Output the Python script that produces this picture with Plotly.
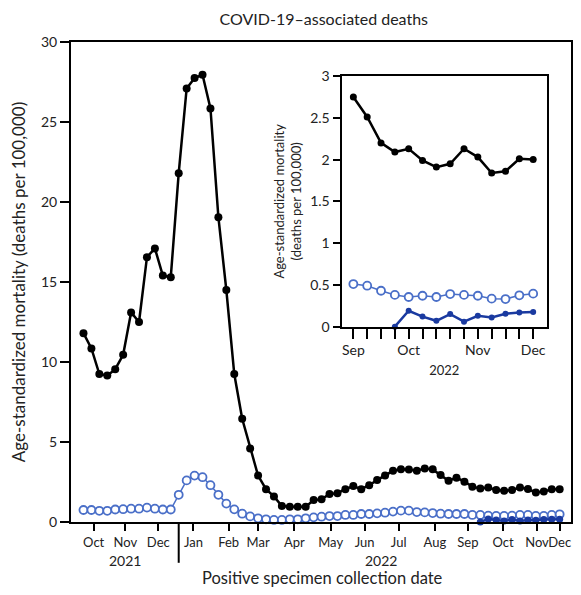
import pandas as pd
import plotly.graph_objects as go

# weekly points, week ending dates
weeks = pd.date_range("2021-10-09", "2022-12-03", freq="7D")

# all cases (black), unvaccinated-type comparison series (open), dark blue series
black_main = [11.8, 10.85, 9.25, 9.15, 9.55, 10.45, 13.1, 12.5, 16.55, 17.1,
              15.4, 15.3, 21.8, 27.1, 27.75, 27.95, 25.85, 19.05, 14.5, 9.25,
              6.45, 4.6, 2.9, 2.05, 1.6, 1.0, 0.95, 0.95, 0.95, 1.37,
              1.42, 1.75, 1.8, 2.05, 2.25, 2.05, 2.3, 2.62, 2.9, 3.2,
              3.3, 3.28, 3.2, 3.35, 3.29, 2.94, 2.58, 2.77, 2.52, 2.21,
              2.1, 2.15, 2.0, 1.96, 2.0, 2.15, 2.06, 1.85, 1.9, 2.05, 2.05]
light_main = [0.75, 0.75, 0.7, 0.7, 0.78, 0.8, 0.83, 0.83, 0.9, 0.83,
              0.78, 0.78, 1.7, 2.6, 2.9, 2.8, 2.3, 1.7, 1.15, 0.79,
              0.52, 0.35, 0.23, 0.17, 0.13, 0.13, 0.17, 0.17, 0.23, 0.29,
              0.33, 0.37, 0.37, 0.44, 0.44, 0.5, 0.5, 0.54, 0.58, 0.65,
              0.71, 0.71, 0.62, 0.6, 0.56, 0.52, 0.5, 0.5, 0.5, 0.44,
              0.44, 0.4, 0.38, 0.38, 0.4, 0.44, 0.44, 0.38, 0.38, 0.44, 0.48]

# inset: Sep 3 - Dec 3 2022
inset_weeks = pd.date_range("2022-09-03", "2022-12-03", freq="7D")
black_inset = [2.75, 2.51, 2.20, 2.09, 2.13, 1.99, 1.91, 1.95, 2.13, 2.03,
               1.84, 1.86, 2.01, 2.0]
light_inset = [0.51, 0.49, 0.43, 0.38, 0.355, 0.37, 0.355, 0.39, 0.38, 0.37,
               0.335, 0.33, 0.375, 0.395]
dark_weeks = inset_weeks[3:]
dark_vals = [0, 0.19, 0.12, 0.07, 0.15, 0.06, 0.13, 0.11, 0.155, 0.17, 0.175]

month_ticks = ["2021-10-18", "2021-11-15", "2021-12-14", "2022-01-14", "2022-02-14",
               "2022-03-12", "2022-04-13", "2022-05-15", "2022-06-14", "2022-07-14",
               "2022-08-15", "2022-09-13", "2022-10-14", "2022-11-13", "2022-12-03"]
month_labels = ["Oct", "Nov", "Dec", "Jan", "Feb", "Mar", "Apr", "May", "Jun",
                "Jul", "Aug", "Sep", "Oct", "Nov", "Dec"]
inset_labels = ["Sep", "", "", "", "Oct", "", "", "", "", "Nov", "", "", "", "Dec"]

BLACK = "#000000"
LIGHT = "#4a6fc8"
DARK = "#1a3aa0"
FONT = "Lato"

fig = go.Figure()

fig.add_trace(go.Scatter(x=weeks, y=black_main, mode="lines+markers",
                         line=dict(color=BLACK, width=2.5),
                         marker=dict(color=BLACK, size=8), cliponaxis=False))
fig.add_trace(go.Scatter(x=weeks, y=light_main, mode="lines+markers",
                         line=dict(color=LIGHT, width=1.5),
                         marker=dict(color="white", size=8, line=dict(color=LIGHT, width=1.8)),
                         cliponaxis=False))
fig.add_trace(go.Scatter(x=dark_weeks, y=dark_vals, mode="lines+markers",
                         line=dict(color=DARK, width=2.5),
                         marker=dict(color=DARK, size=7), cliponaxis=False))

# inset
fig.add_trace(go.Scatter(x=inset_weeks, y=black_inset, mode="lines+markers",
                         line=dict(color=BLACK, width=2.5),
                         marker=dict(color=BLACK, size=7), cliponaxis=False,
                         xaxis="x2", yaxis="y2"))
fig.add_trace(go.Scatter(x=inset_weeks, y=light_inset, mode="lines+markers",
                         line=dict(color=LIGHT, width=1.5),
                         marker=dict(color="white", size=8, line=dict(color=LIGHT, width=1.8)),
                         cliponaxis=False, xaxis="x2", yaxis="y2"))
fig.add_trace(go.Scatter(x=dark_weeks, y=dark_vals, mode="lines+markers",
                         line=dict(color=DARK, width=2.5),
                         marker=dict(color=DARK, size=6), cliponaxis=False,
                         xaxis="x2", yaxis="y2"))

axis_common = dict(showline=True, linecolor=BLACK, linewidth=2, mirror=True,
                   showgrid=False, zeroline=False, ticks="outside",
                   tickcolor=BLACK, tickwidth=2, tickangle=0)

# page body adds 8px on every side, so the figure is 16px smaller than the window
fig.update_layout(
    width=565, height=579,
    margin=dict(l=63, r=2, t=34, b=65),
    paper_bgcolor="white", plot_bgcolor="white",
    showlegend=False,
    font=dict(family=FONT, size=14, color="#222222"),
    title=dict(text="COVID-19–associated deaths", x=0.559, xanchor="center",
               y=0.981, yanchor="middle", font=dict(size=16)),
    xaxis=dict(axis_common, range=["2021-09-28", "2022-12-13"], ticklen=7,
               tickvals=month_ticks, ticktext=month_labels, tickfont=dict(size=13),
               automargin=False),
    yaxis=dict(axis_common, range=[0, 30], ticklen=9, tickvals=[0, 5, 10, 15, 20, 25, 30],
               automargin=False,
               title=dict(text="Age-standardized mortality (deaths per 100,000)", standoff=14)),
    xaxis2=dict(axis_common, domain=[0.541, 0.952], anchor="y2",
                range=["2022-08-28", "2022-12-10"], ticklen=10,
                tickvals=inset_weeks, ticktext=inset_labels,
                title=dict(text="2022", standoff=8, font=dict(size=13))),
    yaxis2=dict(axis_common, domain=[0.407, 0.929], anchor="x2",
                range=[0, 3], ticklen=7, tickvals=[0, 0.5, 1, 1.5, 2, 2.5, 3],
                ticktext=["0", "0.5", "1", "1.5", "2", "2.5", "3"],
                title=dict(text="Age-standardized mortality<br>(deaths per 100,000)",
                           standoff=6, font=dict(size=13))),
)

# year separator, year labels and x-axis title
fig.add_shape(type="line", xref="x", yref="paper", x0="2022-01-01", x1="2022-01-01",
              y0=0, y1=-0.085, line=dict(color=BLACK, width=2))
fig.add_annotation(x="2021-11-15", y=-0.08, xref="x", yref="paper", text="2021",
                   showarrow=False, yanchor="middle")
fig.add_annotation(x="2022-06-28", y=-0.08, xref="x", yref="paper", text="2022",
                   showarrow=False, yanchor="middle")
fig.add_annotation(x="2022-05-08", y=-0.117, xref="x", yref="paper",
                   text="Positive specimen collection date", showarrow=False,
                   yanchor="middle", font=dict(size=16.5))

fig.write_html("out.html")
